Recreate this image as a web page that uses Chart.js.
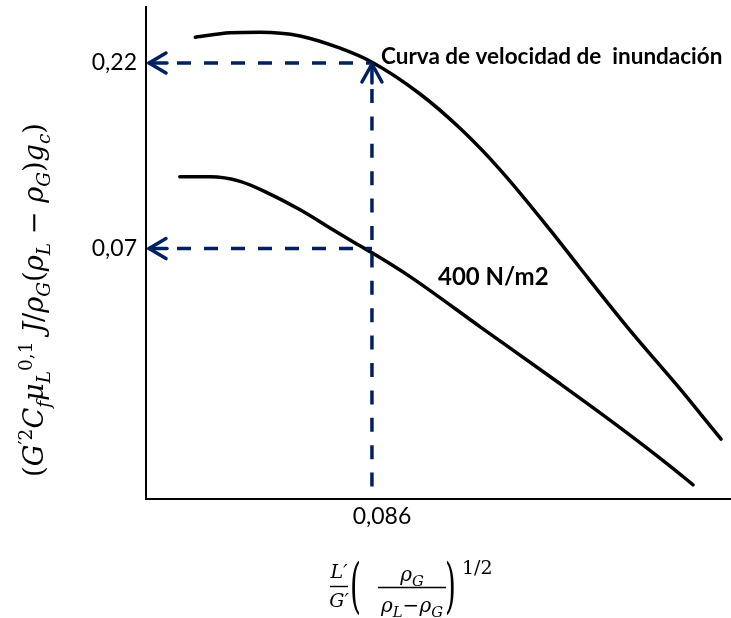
<!DOCTYPE html>
<html><head><meta charset="utf-8">
<script src="https://cdn.jsdelivr.net/npm/chart.js@4"></script>
<style>html,body{margin:0;padding:0;background:#fff}#wrap{width:731px;height:618px;position:relative}</style>
</head><body><div id="wrap"><canvas id="c" width="731" height="618"></canvas></div>
<script>
// ---- data (log-log schematic) ----
const floodX = [0.0160, 0.0223, 0.0296, 0.0434, 0.0635, 0.0861, 0.136, 0.199, 0.291, 0.469, 0.624, 1.00, 1.62, 1.96, 2.39];
const floodY = [0.258, 0.265, 0.266, 0.260, 0.241, 0.221, 0.1817, 0.147, 0.114, 0.0786, 0.0621, 0.0424, 0.0294, 0.0253, 0.0216];
const lowX = [0.0138, 0.0184, 0.0245, 0.0326, 0.0434, 0.0577, 0.0767, 0.0861, 0.124, 0.241, 0.516, 0.913, 1.47, 1.83];
const lowY = [0.109, 0.109, 0.106, 0.098, 0.0889, 0.0795, 0.0712, 0.0682, 0.0588, 0.0432, 0.0304, 0.0232, 0.0183, 0.0163];
const yTickValues = [0.07, 0.22];
const yTickLabels = ['0,07', '0,22'];
const xTickValues = [0.086];
const xTickLabels = ['0,086'];
const refX = 0.086;
const refYs = [0.22, 0.07];
const curveLabels = ['Curva de velocidad de  inundación', '400 N/m2'];

const NAVY = '#002060';
const MF = '"DejaVu Serif"';

function segFont(sg, size, k) {
  const fs = sg.s === 'n' ? size : size * k;
  return (sg.i ? 'italic ' : '') + fs.toFixed(2) + 'px ' + MF;
}
function mathWidth(ctx, segs, size, k = 0.68) {
  let w = 0;
  for (const sg of segs) { ctx.font = segFont(sg, size, k); w += ctx.measureText(sg.t).width; }
  return w;
}
function drawMath(ctx, segs, x, y, size, k = 0.68) {
  let cx = x;
  ctx.textBaseline = 'alphabetic';
  ctx.textAlign = 'left';
  for (const sg of segs) {
    ctx.font = segFont(sg, size, k);
    const dy = sg.s === 'sub' ? size * 0.26 : sg.s === 'sup' ? -size * 0.42 : 0;
    ctx.fillText(sg.t, cx, y + dy);
    cx += ctx.measureText(sg.t).width;
  }
  return cx - x;
}
function drawMathCentered(ctx, segs, cx, y, size, k = 0.68) {
  const w = mathWidth(ctx, segs, size, k);
  drawMath(ctx, segs, cx - w / 2, y, size, k);
}

const yTitleSegs = [
  {t:'(', s:'n'}, {t:'G', s:'n', i:1}, {t:'\u20322', s:'sup'}, {t:'C', s:'n', i:1}, {t:'f', s:'sub', i:1},
  {t:'μ', s:'n', i:1}, {t:'L', s:'sub', i:1}, {t:'0,1', s:'sup'}, {t:' ', s:'n'}, {t:'J', s:'n', i:1},
  {t:'/', s:'n'}, {t:'ρ', s:'n', i:1}, {t:'G', s:'sub', i:1}, {t:'(', s:'n'}, {t:'ρ', s:'n', i:1},
  {t:'L', s:'sub', i:1}, {t:' − ', s:'n'}, {t:'ρ', s:'n', i:1}, {t:'G', s:'sub', i:1}, {t:')', s:'n'},
  {t:'g', s:'n', i:1}, {t:'c', s:'sub', i:1}, {t:')', s:'n'}
];
const numL = [{t:'L\u2032', s:'n', i:1}];
const denG = [{t:'G\u2032', s:'n', i:1}];
const numRho = [{t:'ρ', s:'n', i:1}, {t:'G', s:'sub', i:1}];
const denRho = [{t:'ρ', s:'n', i:1}, {t:'L', s:'sub', i:1}, {t:'−', s:'n'}, {t:'ρ', s:'n', i:1}, {t:'G', s:'sub', i:1}];

const annot = {
  id: 'annot',
  afterDatasetsDraw(chart) {
    const {ctx, scales: {x: xs, y: ys}} = chart;
    const px = xs.getPixelForValue(refX);
    const left = xs.left;
    const bottom = ys.bottom;
    const pyTop = ys.getPixelForValue(refYs[0]);
    ctx.save();
    ctx.strokeStyle = NAVY;
    ctx.lineWidth = 3.5;
    refYs.forEach(v => {
      const py = ys.getPixelForValue(v);
      ctx.setLineDash([]);
      ctx.lineCap = 'round'; ctx.lineJoin = 'round';
      ctx.beginPath(); ctx.moveTo(left + 3, py); ctx.lineTo(left + 21, py); ctx.stroke();
      ctx.beginPath(); ctx.moveTo(left + 20, py - 10); ctx.lineTo(left + 3, py); ctx.lineTo(left + 20, py + 10); ctx.stroke();
      ctx.lineCap = 'butt';
      ctx.setLineDash([14, 13]);
      ctx.beginPath(); ctx.moveTo(left + 31, py); ctx.lineTo(px, py); ctx.stroke();
    });
    // vertical
    ctx.setLineDash([]);
    ctx.lineCap = 'round'; ctx.lineJoin = 'round';
    ctx.beginPath(); ctx.moveTo(px, pyTop + 1); ctx.lineTo(px, pyTop + 20); ctx.stroke();
    ctx.beginPath(); ctx.moveTo(px - 10, pyTop + 19); ctx.lineTo(px, pyTop + 1); ctx.lineTo(px + 10, pyTop + 19); ctx.stroke();
    ctx.lineCap = 'butt';
    ctx.setLineDash([14, 13.4]);
    ctx.beginPath(); ctx.moveTo(px, pyTop + 26); ctx.lineTo(px, bottom - 2); ctx.stroke();
    ctx.restore();

    // curve labels
    ctx.save();
    ctx.fillStyle = '#000';
    ctx.textAlign = 'left';
    ctx.textBaseline = 'alphabetic';
    ctx.font = 'bold 22.5px Lato';
    ctx.fillText(curveLabels[0], 381, 64);
    ctx.font = 'bold 24px Lato';
    ctx.fillText(curveLabels[1], 438, 285);
    ctx.restore();
  },
  afterDraw(chart) {
    const ctx = chart.ctx;
    ctx.save();
    ctx.fillStyle = '#000';
    // y-axis title (rotated)
    let size = 26;
    const w0 = mathWidth(ctx, yTitleSegs, size);
    size = size * 354 / w0;
    const w = mathWidth(ctx, yTitleSegs, size);
    ctx.translate(43, 300);
    ctx.rotate(-Math.PI / 2);
    drawMath(ctx, yTitleSegs, -w / 2, 0, size);
    ctx.restore();

    // x-axis title
    ctx.save();
    ctx.fillStyle = '#000';
    ctx.strokeStyle = '#000';
    ctx.lineWidth = 1.4;
    drawMathCentered(ctx, numL, 339, 578, 19);
    ctx.beginPath(); ctx.moveTo(330, 586.5); ctx.lineTo(348, 586.5); ctx.stroke();
    drawMathCentered(ctx, denG, 339, 607, 19);
    // big parentheses
    ctx.save();
    ctx.font = '28px ' + MF;
    ctx.textAlign = 'left';
    ctx.translate(350, 606);
    ctx.scale(1, 2.15);
    ctx.fillText('(', 0, 0);
    ctx.restore();
    ctx.save();
    ctx.font = '28px ' + MF;
    ctx.textAlign = 'left';
    ctx.translate(445, 606);
    ctx.scale(1, 2.15);
    ctx.fillText(')', 0, 0);
    ctx.restore();
    drawMathCentered(ctx, numRho, 412, 581, 20, 0.74);
    ctx.beginPath(); ctx.moveTo(378, 587.5); ctx.lineTo(446, 587.5); ctx.stroke();
    drawMathCentered(ctx, denRho, 412, 612, 20, 0.74);
    ctx.font = '19px ' + MF;
    ctx.textAlign = 'left';
    ctx.fillText('1/2', 462, 574);
    ctx.restore();
  }
};

new Chart(document.getElementById('c').getContext('2d'), {
  type: 'line',
  data: {
    datasets: [
      {label: curveLabels[0], data: floodX.map((x, i) => ({x, y: floodY[i]})), borderColor: '#000', borderWidth: 3.5,
       pointRadius: 0, cubicInterpolationMode: 'monotone', fill: false, borderCapStyle: 'round'},
      {label: curveLabels[1], data: lowX.map((x, i) => ({x, y: lowY[i]})), borderColor: '#000', borderWidth: 3.5,
       pointRadius: 0, cubicInterpolationMode: 'monotone', fill: false, borderCapStyle: 'round'}
    ]
  },
  options: {
    responsive: false, animation: false, devicePixelRatio: 1,
    layout: {padding: {top: 7, right: 1, left: 0, bottom: 0}},
    plugins: {legend: {display: false}, tooltip: {enabled: false}, title: {display: false}},
    scales: {
      x: {
        type: 'logarithmic', min: 0.01, max: 2.602, bounds: 'data', position: 'bottom',
        grid: {display: true, drawOnChartArea: false, drawTicks: false, color: 'rgba(0,0,0,0)'},
        border: {display: true, color: '#000', width: 2},
        afterBuildTicks: s => { s.ticks = xTickValues.map(v => ({value: v})); },
        ticks: {callback: v => xTickLabels[xTickValues.indexOf(v)], font: {family: 'Lato', size: 23}, color: '#000',
                padding: 4, labelOffset: 10, maxRotation: 0, autoSkip: false},
        afterFit: s => { s.height = 119; s.paddingLeft = 0; s.paddingRight = 0; }
      },
      y: {
        type: 'logarithmic', min: 0.01493, max: 0.3108, bounds: 'data', position: 'left',
        grid: {display: true, drawOnChartArea: false, drawTicks: false, color: 'rgba(0,0,0,0)'},
        border: {display: true, color: '#000', width: 2},
        afterBuildTicks: s => { s.ticks = yTickValues.map(v => ({value: v})); },
        ticks: {callback: v => yTickLabels[yTickValues.indexOf(v)], font: {family: 'Lato', size: 23}, color: '#000',
                padding: 9, autoSkip: false},
        afterFit: s => { s.width = 146; s.paddingTop = 0; s.paddingBottom = 0; }
      }
    }
  },
  plugins: [annot]
});
</script>
</body></html>
